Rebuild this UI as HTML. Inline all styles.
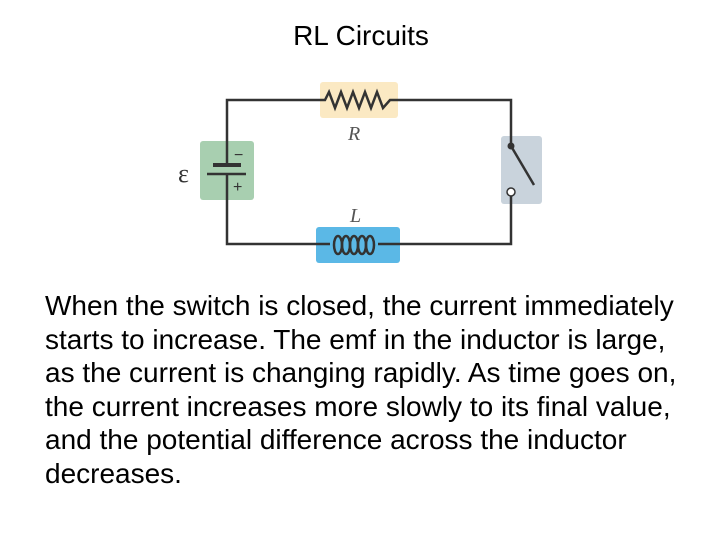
<!DOCTYPE html>
<html><head><style>
body{margin:0;width:720px;height:540px;background:#fff;position:relative;overflow:hidden;font-family:"Liberation Sans",sans-serif;}
.t{position:absolute;top:19px;left:0;width:722px;text-align:center;font-size:28px;line-height:34px;color:#000;}
.p{position:absolute;left:45px;top:289px;font-size:28px;line-height:33.6px;color:#000;width:680px;white-space:nowrap;}
svg{position:absolute;left:0;top:0}
</style></head><body>
<div class="t">RL Circuits</div>
<svg width="720" height="540">
<rect x="320" y="82" width="78" height="36" rx="3" fill="#fbe9c3"/>
<rect x="200" y="141" width="54" height="59" rx="3" fill="#a8cfb0"/>
<rect x="501" y="136" width="41" height="68" rx="3" fill="#c9d3dc"/>
<rect x="316" y="227" width="84" height="36" rx="3" fill="#5bb8e6"/>
<g stroke="#333" stroke-width="2.5" fill="none">
<polyline points="227,165 227,100 325,100 329,92 335,108 341,92 347,108 353,92 359,108 365,92 371,108 377,92 383,108 390,100 511,100 511,146"/>
<polyline points="227,174 227,244 330,244"/>
<ellipse cx="338" cy="245" rx="4" ry="9"/>
<ellipse cx="346" cy="245" rx="4" ry="9"/>
<ellipse cx="354" cy="245" rx="4" ry="9"/>
<ellipse cx="362" cy="245" rx="4" ry="9"/>
<ellipse cx="370" cy="245" rx="4" ry="9"/>
<polyline points="378,244 511,244 511,196"/>
<line x1="511" y1="146" x2="534" y2="185"/>
</g>
<line x1="213" y1="165" x2="241" y2="165" stroke="#333" stroke-width="4"/>
<line x1="207" y1="174" x2="246" y2="174" stroke="#333" stroke-width="2.5"/>
<circle cx="511" cy="146" r="3.5" fill="#333"/>
<circle cx="511" cy="192" r="4" fill="#fff" stroke="#333" stroke-width="1.5"/>
<text x="234" y="160" font-size="16" fill="#333" font-family="Liberation Sans">−</text>
<text x="233" y="192" font-size="16" fill="#333" font-family="Liberation Sans">+</text>
<text x="178" y="182" font-size="26" fill="#333" font-family="Liberation Serif">ε</text>
<text x="348" y="140" font-size="20" font-style="italic" fill="#555" font-family="Liberation Serif">R</text>
<text x="350" y="222" font-size="20" font-style="italic" fill="#555" font-family="Liberation Serif">L</text>
</svg>
<div class="p">When the switch is closed, the current immediately<br>starts to increase. The emf in the inductor is large,<br>as the current is changing rapidly. As time goes on,<br>the current increases more slowly to its final value,<br>and the potential difference across the inductor<br>decreases.</div>
</body></html>
